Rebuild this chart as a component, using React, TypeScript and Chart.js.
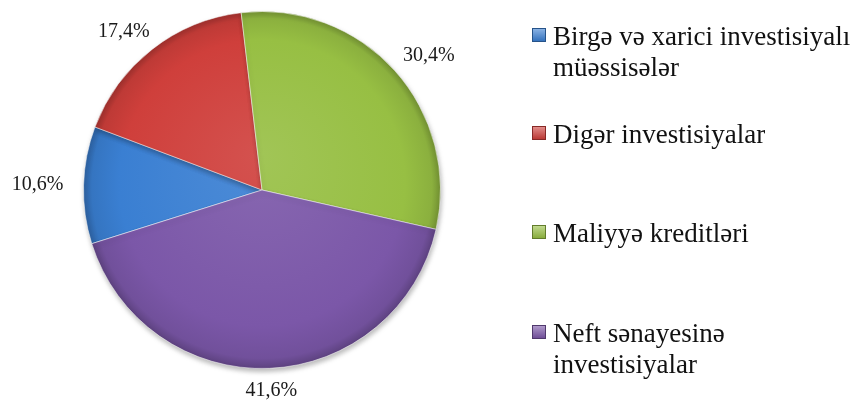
import React, { useEffect, useRef } from "react";
import { Chart, registerables } from "chart.js";

Chart.register(...registerables);

const categories: string[][] = [
  ["Birgə və xarici investisiyalı", "müəssisələr"],
  ["Digər investisiyalar"],
  ["Maliyyə kreditləri"],
  ["Neft sənayesinə", "investisiyalar"],
];
const values: number[] = [10.6, 17.4, 30.4, 41.6];
const valueLabels: string[] = ["10,6%", "17,4%", "30,4%", "41,6%"];
const colors: string[] = ["#3a7fd2", "#cf3f3b", "#97bf43", "#7b57a8"];

const SERIF = '"Liberation Serif", "Times New Roman", "DejaVu Serif", serif';
const legendBaselines = [46, 144, 243, 343];

function shade(hex: string, f: number): string {
  const n = parseInt(hex.slice(1), 16);
  let r = (n >> 16) & 255, g = (n >> 8) & 255, b = n & 255;
  if (f >= 0) {
    r = Math.round(r + (255 - r) * f);
    g = Math.round(g + (255 - g) * f);
    b = Math.round(b + (255 - b) * f);
  } else {
    r = Math.round(r * (1 + f));
    g = Math.round(g * (1 + f));
    b = Math.round(b * (1 + f));
  }
  return `rgb(${r},${g},${b})`;
}

const labelPlugin = {
  id: "outerLabels",
  afterDatasetsDraw(chart: any) {
    const ctx = chart.ctx;
    const meta = chart.getDatasetMeta(0);
    ctx.save();
    ctx.font = `20px ${SERIF}`;
    ctx.fillStyle = "#1a1a1a";
    ctx.textAlign = "center";
    ctx.textBaseline = "middle";
    meta.data.forEach((arc: any, i: number) => {
      const p = arc.getProps(["x", "y", "startAngle", "endAngle", "outerRadius"], true);
      const mid = (p.startAngle + p.endAngle) / 2;
      const rx = p.outerRadius + 46;
      const ry = p.outerRadius + 22;
      const tx = p.x + Math.cos(mid) * rx;
      const ty = p.y + Math.sin(mid) * ry;
      ctx.fillText(valueLabels[i], tx, ty);
    });
    ctx.restore();
  },
};

const shadowPlugin = {
  id: "pieShadow",
  beforeDatasetsDraw(chart: any) {
    const ctx = chart.ctx;
    ctx.save();
    ctx.shadowColor = "rgba(0,0,0,0.28)";
    ctx.shadowBlur = 5;
    ctx.shadowOffsetX = 1;
    ctx.shadowOffsetY = 3;
  },
  afterDatasetsDraw(chart: any) {
    chart.ctx.restore();
  },
};

export default function App() {
  const ref = useRef<HTMLCanvasElement | null>(null);
  useEffect(() => {
    document.body.style.margin = "0";
    let chart: any = null;
    let cancelled = false;
    const build = () => {
      if (cancelled || !ref.current) return;
      chart = new Chart(ref.current, {
        type: "pie",
        data: {
          labels: categories.map((c) => c.join(" ")),
          datasets: [
            {
              data: values,
              backgroundColor: (c: any) => {
                const i = c.dataIndex;
                const base = colors[i];
                const ch = c.chart;
                const area = ch.chartArea;
                if (!area) return base;
                const cx = (area.left + area.right) / 2;
                const cy = (area.top + area.bottom) / 2;
                const r = Math.min(area.right - area.left, area.bottom - area.top) / 2;
                const g = ch.ctx.createRadialGradient(cx, cy - r * 0.2, 0, cx, cy, r);
                g.addColorStop(0, shade(base, 0.1));
                g.addColorStop(0.8, base);
                g.addColorStop(0.95, shade(base, -0.08));
                g.addColorStop(1, shade(base, -0.25));
                return g;
              },
              borderColor: "rgba(255,255,255,0.5)",
              borderWidth: 1,
            },
          ],
        },
        options: {
          responsive: true,
          maintainAspectRatio: false,
          animation: false,
          rotation: 252.5,
          layout: { padding: { left: 83, right: 411, top: 11, bottom: 32 } },
          plugins: {
            legend: { display: false },
            tooltip: { enabled: false },
          },
        },
        plugins: [shadowPlugin, labelPlugin],
      });
    };
    const fonts: any = (document as any).fonts;
    if (fonts && fonts.load) {
      fonts.load('20px "Liberation Serif"').catch(() => null).then(build);
    } else {
      build();
    }
    return () => {
      cancelled = true;
      if (chart) chart.destroy();
    };
  }, []);
  return (
    <div style={{ width: 852, height: 401, position: "relative", overflow: "hidden" }}>
      <div style={{ position: "absolute", left: 0, top: 0, width: 852, height: 401 }}>
        <canvas ref={ref} />
      </div>
      {categories.map((lines, i) => {
        const b = legendBaselines[i];
        const c = colors[i];
        return (
          <React.Fragment key={i}>
            <span
              style={{
                position: "absolute",
                left: 532,
                top: b - 18,
                width: 12,
                height: 12,
                border: `1px solid ${shade(c, -0.35)}`,
                background: `linear-gradient(${shade(c, 0.4)}, ${shade(c, -0.1)})`,
                boxSizing: "content-box",
              }}
            />
            <div
              style={{
                position: "absolute",
                left: 553,
                top: b - 25.5,
                fontFamily: SERIF,
                fontSize: 27,
                lineHeight: "31px",
                color: "#111",
                whiteSpace: "nowrap",
              }}
            >
              {lines.map((t, j) => (
                <div key={j}>{t}</div>
              ))}
            </div>
          </React.Fragment>
        );
      })}
    </div>
  );
}
